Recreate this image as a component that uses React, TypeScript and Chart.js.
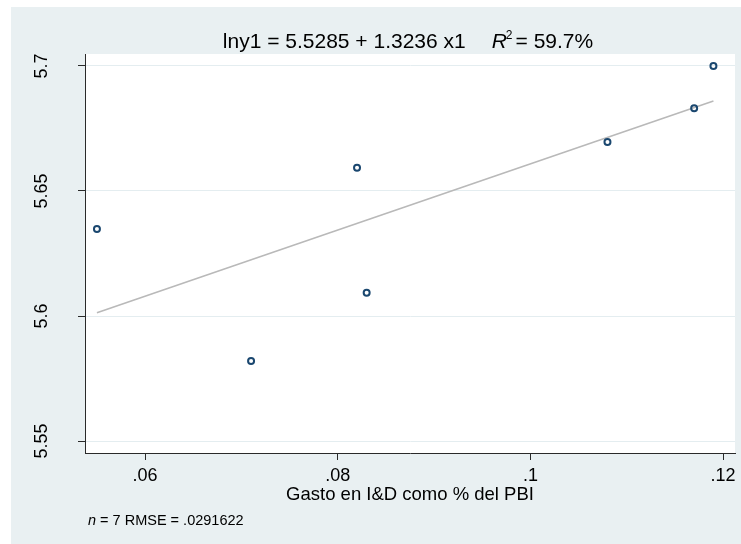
import React, { useEffect, useRef } from "react";
import { Chart, registerables } from "chart.js";

Chart.register(...registerables);

// ---- data ----
const xValues = [0.055, 0.071, 0.082, 0.083, 0.108, 0.117, 0.119];
const yValues = [5.6348, 5.582, 5.6593, 5.6093, 5.6696, 5.6831, 5.7];
const fitIntercept = 5.5285;
const fitSlope = 1.3236;
const xTicks = [0.06, 0.08, 0.1, 0.12];
const xTickLabels = [".06", ".08", ".1", ".12"];
const yTicks = [5.55, 5.6, 5.65, 5.7];
const yTickLabels = ["5.55", "5.6", "5.65", "5.7"];
const titleMain = "lny1 = 5.5285 + 1.3236 x1";
const titleR2Value = "= 59.7%";
const xTitle = "Gasto en I&D como % del PBI";
const noteRest = " = 7 RMSE = .0291622";

const FONT = "'Liberation Sans', Arial, Helvetica, sans-serif";
const BG = "#E9F0F2";
const AXIS = "#2a2a2a";

const decorPlugin = {
  id: "decor",
  beforeDraw(chart: any) {
    const { ctx, width, height, chartArea } = chart;
    ctx.save();
    ctx.fillStyle = "#ffffff";
    ctx.fillRect(0, 0, width, height);
    ctx.fillStyle = BG;
    ctx.fillRect(11, 7, width - 11, height - 7);
    ctx.fillStyle = "#ffffff";
    ctx.fillRect(chartArea.left, chartArea.top, chartArea.right - chartArea.left, chartArea.bottom - chartArea.top);
    ctx.restore();
  },
  afterDraw(chart: any) {
    const { ctx } = chart;
    ctx.save();
    ctx.fillStyle = "#000";
    ctx.textBaseline = "alphabetic";
    // title
    const big = `21px ${FONT}`;
    const ital = `italic 21px ${FONT}`;
    const sup = `12px ${FONT}`;
    ctx.font = big;
    const w1 = ctx.measureText(titleMain).width;
    const gap = 26;
    ctx.font = ital;
    const wR = ctx.measureText("R").width;
    ctx.font = sup;
    const w2 = ctx.measureText("2").width;
    ctx.font = big;
    const w3 = ctx.measureText(titleR2Value).width;
    const total = w1 + gap + wR + w2 + 2 + w3;
    const cx = 408;
    let x = cx - total / 2;
    const by = 48;
    ctx.textAlign = "left";
    ctx.font = big;
    ctx.fillText(titleMain, x, by);
    x += w1 + gap;
    ctx.font = ital;
    ctx.fillText("R", x, by);
    x += wR;
    ctx.font = sup;
    ctx.fillText("2", x - 1, by - 9);
    x += w2 + 2;
    ctx.font = big;
    ctx.fillText(titleR2Value, x, by);

    // note
    ctx.font = `italic 14.5px ${FONT}`;
    ctx.fillText("n", 88, 525);
    const wn = ctx.measureText("n").width;
    ctx.font = `14.5px ${FONT}`;
    ctx.fillText(noteRest, 88 + wn, 525);
    ctx.restore();
  },
};

export default function App() {
  const ref = useRef<HTMLCanvasElement | null>(null);

  useEffect(() => {
    const canvas = ref.current;
    if (!canvas) return;
    const minX = Math.min(...xValues);
    const maxX = Math.max(...xValues);
    const fitData = [
      { x: minX, y: fitIntercept + fitSlope * minX },
      { x: maxX, y: fitIntercept + fitSlope * maxX },
    ];
    const chart = new Chart(canvas, {
      type: "scatter",
      data: {
        datasets: [
          {
            type: "line",
            data: fitData,
            borderColor: "#B9B9B9",
            borderWidth: 1.6,
            pointRadius: 0,
            fill: false,
            order: 1,
          } as any,
          {
            type: "scatter",
            data: xValues.map((v, i) => ({ x: v, y: yValues[i] })),
            pointStyle: "circle",
            pointRadius: 3,
            borderWidth: 2,
            borderColor: "#1A476F",
            backgroundColor: "rgba(255,255,255,0)",
            order: 0,
          },
        ],
      },
      options: {
        responsive: false,
        animation: false,
        events: [],
        layout: { padding: { top: 54, right: 4, left: 0, bottom: 0 } },
        plugins: {
          legend: { display: false },
          tooltip: { enabled: false },
          title: { display: false },
        },
        scales: {
          x: {
            type: "linear",
            position: "bottom",
            min: 0.05376,
            max: 0.12124,
            afterBuildTicks: (s: any) => {
              s.ticks = xTicks.map((v) => ({ value: v }));
            },
            afterFit: (s: any) => {
              s.height = 91;
            },
            ticks: {
              autoSkip: false,
              maxRotation: 0,
              minRotation: 0,
              padding: 5,
              color: "#000",
              font: { family: FONT, size: 18 },
              callback: (v: any) => {
                const i = xTicks.findIndex((t) => Math.abs(t - v) < 1e-9);
                return i >= 0 ? xTickLabels[i] : "";
              },
            },
            grid: {
              drawOnChartArea: false,
              drawTicks: true,
              tickLength: 7,
              tickColor: AXIS,
              tickWidth: 1,
            },
            border: { display: true, color: AXIS, width: 1 },
            title: {
              display: true,
              text: xTitle,
              color: "#000",
              font: { family: FONT, size: 18.5 },
              padding: { top: 2, bottom: 38 },
            },
          },
          y: {
            type: "linear",
            min: 5.5452,
            max: 5.7048,
            afterBuildTicks: (s: any) => {
              s.ticks = yTicks.map((v) => ({ value: v }));
            },
            afterFit: (s: any) => {
              s.width = 85;
            },
            ticks: {
              autoSkip: false,
              minRotation: 90,
              maxRotation: 90,
              crossAlign: "center",
              padding: 18,
              color: "#000",
              font: { family: FONT, size: 18 },
              callback: (v: any) => {
                const i = yTicks.findIndex((t) => Math.abs(t - v) < 1e-9);
                return i >= 0 ? yTickLabels[i] : "";
              },
            },
            grid: {
              color: "#E4EDF0",
              lineWidth: 1,
              drawTicks: true,
              tickLength: 7,
              tickColor: AXIS,
              tickWidth: 1,
            },
            border: { display: true, color: AXIS, width: 1 },
          },
        },
      } as any,
      plugins: [decorPlugin],
    });
    return () => chart.destroy();
  }, []);

  return (
    <div style={{ position: "absolute", left: 0, top: 0, width: 741, height: 544 }}>
      <canvas ref={ref} width={741} height={544} style={{ display: "block" }} />
    </div>
  );
}
